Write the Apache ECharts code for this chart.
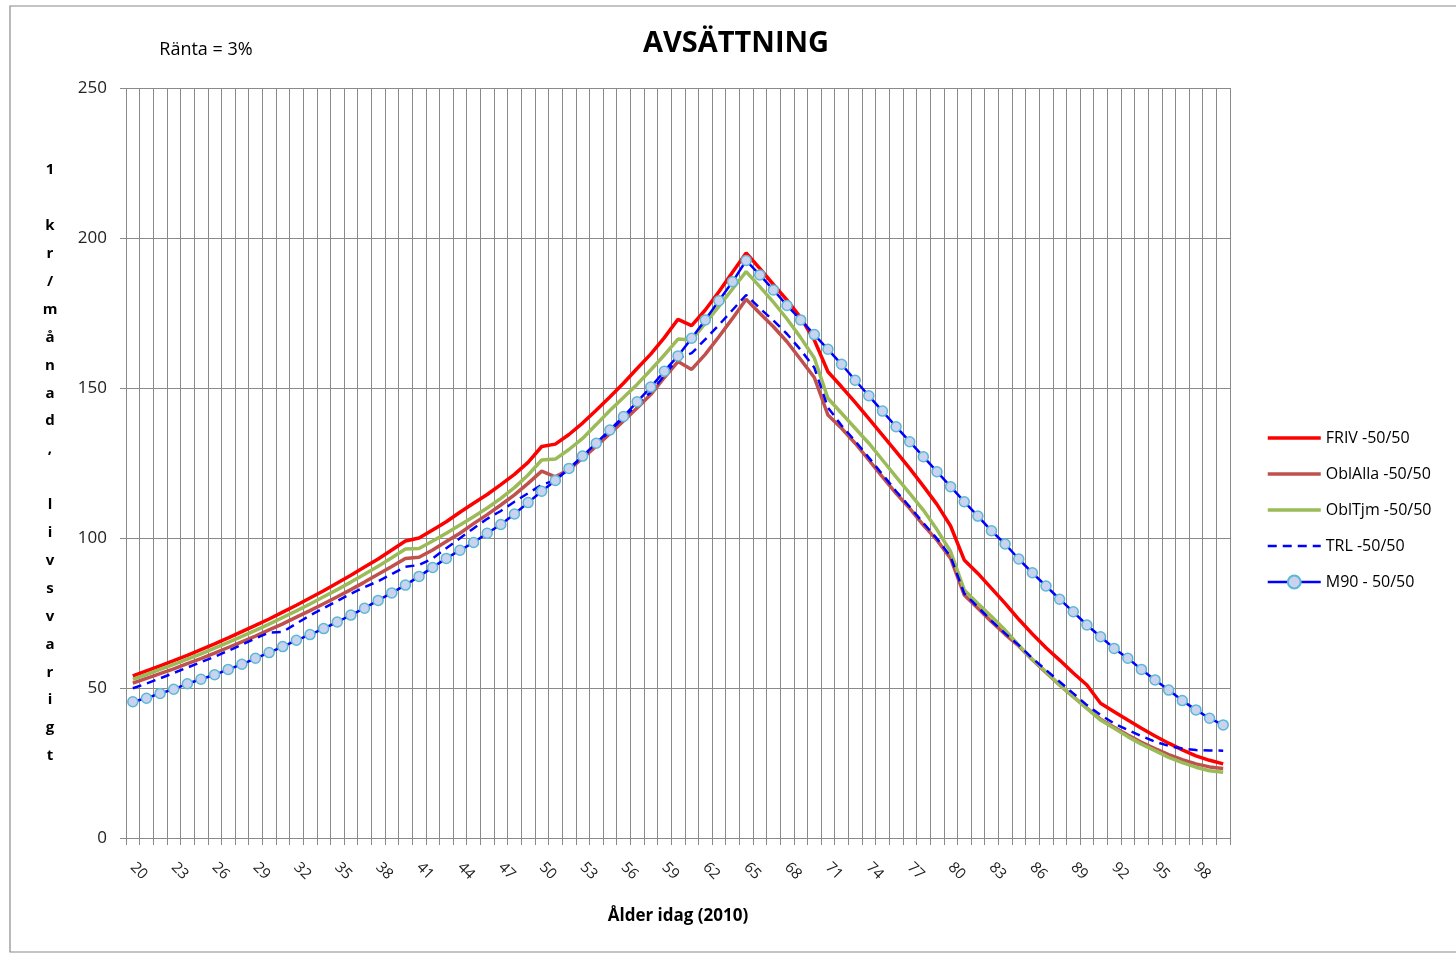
<!DOCTYPE html>
<html>
<head>
<meta charset="utf-8">
<title>Avsättning</title>
<script src="https://cdn.jsdelivr.net/npm/echarts@6/dist/echarts.min.js"></script>
<style>
  html, body { margin: 0; padding: 0; background: #fff; }
  #chart { width: 1456px; height: 953px; }
</style>
</head>
<body>
<div id="chart"></div>
<script>
  // ages 20..100
  var ages = []
  for (var a = 20; a <= 100; a++) ages.push(String(a))

  var friv = [
    54.0, 55.7, 57.4, 59.1, 60.9, 62.8, 64.7, 66.7, 68.8, 70.9,
    73.0, 75.3, 77.6, 80.0, 82.4, 85.0, 87.6, 90.3, 93.0, 96.0,
    99.0, 100.0, 102.7, 105.4, 108.6, 111.6, 114.5, 117.8, 121.2, 125.2,
    130.5, 131.3, 134.5, 138.3, 142.6, 147.0, 151.6, 156.5, 161.3, 166.8,
    172.9, 170.8, 176.0, 182.1, 188.6, 195.0, 189.9, 184.5, 179.3, 173.5,
    166.0, 155.4, 150.4, 145.2, 139.8, 134.3, 128.8, 123.2, 117.3, 111.2,
    104.0, 92.7, 88.2, 83.2, 78.2, 72.9, 68.0, 63.4, 59.3, 55.0,
    51.0, 44.9, 42.1, 39.3, 36.6, 34.0, 31.6, 29.4, 27.4, 25.9,
    24.7
  ]
  var oblAlla = [
    51.6, 53.2, 54.8, 56.4, 58.1, 59.8, 61.6, 63.5, 65.4, 67.3,
    69.4, 71.4, 73.6, 75.8, 78.1, 80.4, 82.8, 85.3, 87.9, 90.5,
    93.2, 93.6, 96.0, 98.8, 101.6, 104.8, 107.8, 111.0, 114.4, 118.2,
    122.3, 120.4, 122.8, 126.6, 130.6, 134.8, 139.0, 143.3, 147.8, 153.5,
    158.8, 156.2, 161.2, 167.1, 173.2, 179.6, 174.9, 170.4, 165.4, 159.5,
    153.5, 141.0, 136.6, 131.6, 126.0, 120.4, 114.9, 109.9, 104.3, 99.3,
    93.2, 81.0, 76.6, 72.1, 67.9, 64.0, 59.4, 55.2, 51.0, 47.1,
    43.3, 39.6, 36.9, 34.3, 31.9, 29.8, 27.8, 26.1, 24.7, 23.7,
    23.2
  ]
  var oblTjm = [
    52.9, 54.5, 56.2, 57.9, 59.6, 61.4, 63.3, 65.2, 67.2, 69.2,
    71.3, 73.5, 75.7, 78.0, 80.4, 82.8, 85.3, 87.9, 90.6, 93.4,
    96.3, 96.5, 99.0, 101.6, 104.3, 107.1, 110.0, 113.2, 116.8, 121.0,
    126.0, 126.3, 129.5, 133.2, 137.8, 142.5, 146.8, 151.2, 156.0, 161.0,
    166.3, 166.0, 171.5, 177.2, 183.0, 188.8, 183.8, 178.6, 173.0, 166.8,
    160.0, 146.6, 141.6, 136.6, 131.6, 126.0, 120.4, 114.9, 109.3, 102.8,
    95.5, 82.7, 78.2, 73.8, 69.3, 64.3, 59.6, 55.4, 51.0, 47.1,
    43.2, 39.3, 36.6, 33.8, 31.3, 29.1, 26.9, 25.1, 23.6, 22.4,
    21.9
  ]
  var trl = [
    49.9, 51.5, 53.2, 55.0, 56.8, 58.6, 60.4, 62.4, 64.4, 66.5,
    68.5, 68.7, 71.5, 74.2, 76.6, 79.0, 81.4, 83.6, 85.6, 88.0,
    90.4, 91.0, 93.2, 96.6, 99.9, 103.2, 106.4, 109.0, 112.1, 114.9,
    117.7, 119.3, 123.0, 127.0, 131.3, 135.7, 140.1, 144.6, 148.6, 154.2,
    159.9, 161.6, 166.2, 171.0, 176.0, 181.0, 176.6, 172.5, 168.0, 162.7,
    156.8, 143.5, 137.5, 132.3, 126.8, 121.2, 115.6, 110.4, 105.0, 99.8,
    93.8, 81.5, 77.0, 72.4, 68.2, 64.3, 59.9, 56.0, 52.1, 48.2,
    44.3, 41.0, 38.2, 36.0, 34.0, 32.1, 30.7, 29.8, 29.3, 29.2,
    29.1
  ]
  var m90 = [
    45.4, 46.6, 48.2, 49.6, 51.4, 52.9, 54.4, 56.2, 57.9, 59.9,
    61.8, 63.8, 65.9, 67.8, 69.8, 72.0, 74.3, 76.6, 79.2, 81.7,
    84.3, 87.2, 90.2, 93.2, 95.9, 98.5, 101.6, 104.5, 108.0, 111.8,
    115.6, 119.2, 123.2, 127.3, 131.6, 136.0, 140.5, 145.4, 150.3, 155.6,
    160.7, 166.6, 172.7, 179.1, 185.4, 192.5, 187.7, 182.7, 177.5, 172.7,
    167.8, 162.9, 157.9, 152.6, 147.4, 142.3, 137.1, 132.1, 127.1, 122.1,
    117.1, 112.1, 107.3, 102.4, 98.0, 93.0, 88.4, 84.0, 79.6, 75.4,
    71.0, 67.1, 63.2, 59.9, 56.2, 52.7, 49.3, 45.8, 42.7, 39.9,
    37.7
  ]

  var yTitle = '1 kr/månad, livsvarigt'.split('').join('\n')
  var fontFam = '"Open Sans", sans-serif'
  var gridColor = '#8a8a8a'

  var chart = echarts.init(document.getElementById('chart'))

  function lineSeries(name, data, color, width, dashed) {
    return {
      name: name,
      type: 'line',
      data: data,
      symbol: 'none',
      lineStyle: { color: color, width: width, type: dashed ? [9, 6] : 'solid' },
      itemStyle: { color: color },
      emphasis: { disabled: true }
    }
  }

  // legend entries without the circle for plain line series
  var noDot = { color: 'rgba(0,0,0,0)', borderColor: 'rgba(0,0,0,0)', borderWidth: 0, opacity: 0 }

  chart.setOption({
    animation: false,
    textStyle: { fontFamily: fontFam },
    graphic: [
      {
        type: 'rect',
        shape: { x: 10, y: 6, width: 1460, height: 946 },
        style: { fill: 'none', stroke: '#8a8a8a', lineWidth: 1.2 },
        silent: true
      },
      {
        type: 'text',
        x: 736, y: 44,
        style: {
          text: 'AVSÄTTNING', fill: '#000', font: 'bold 29px ' + fontFam,
          textAlign: 'center', textVerticalAlign: 'middle'
        }
      },
      {
        type: 'text',
        x: 206, y: 50,
        style: {
          text: 'Ränta = 3%', fill: '#000', font: '18px ' + fontFam,
          textAlign: 'center', textVerticalAlign: 'middle'
        }
      }
    ],
    legend: {
      orient: 'vertical',
      left: 1261,
      top: 425,
      itemWidth: 53,
      itemHeight: 16,
      itemGap: 20,
      textStyle: { fontSize: 16, color: '#000', fontFamily: fontFam },
      data: [
        { name: 'FRIV -50/50', itemStyle: noDot, lineStyle: { width: 3.5 } },
        { name: 'OblAlla -50/50', itemStyle: noDot, lineStyle: { width: 3.5 } },
        { name: 'OblTjm -50/50', itemStyle: noDot, lineStyle: { width: 3.5 } },
        { name: 'TRL -50/50', itemStyle: noDot, lineStyle: { width: 2.5 } },
        { name: 'M90 - 50/50', lineStyle: { width: 2.5 } }
      ]
    },
    grid: { left: 126, right: 226, top: 88, bottom: 115, containLabel: false },
    xAxis: {
      type: 'category',
      data: ages,
      boundaryGap: true,
      name: 'Ålder idag (2010)',
      nameLocation: 'middle',
      nameGap: 70,
      nameTextStyle: { fontWeight: 'bold', fontSize: 17, color: '#000' },
      axisLine: { lineStyle: { color: gridColor, width: 1 } },
      axisTick: { show: true, interval: 0, length: 7, lineStyle: { color: gridColor } },
      axisLabel: { interval: 2, rotate: -45, margin: 27, fontSize: 15, color: '#222' },
      splitLine: { show: true, interval: 0, lineStyle: { color: gridColor, width: 1 } }
    },
    yAxis: {
      type: 'value',
      min: 0,
      max: 250,
      interval: 50,
      name: yTitle,
      nameLocation: 'middle',
      nameRotate: 0,
      nameGap: 76,
      nameTextStyle: {
        fontWeight: 'bold', fontSize: 15, color: '#000', lineHeight: 27.9,
        align: 'center', verticalAlign: 'middle', padding: [6, 0, 0, 0]
      },
      axisLine: { show: false },
      axisTick: { show: true, length: 6, lineStyle: { color: gridColor } },
      axisLabel: { margin: 19, fontSize: 17, color: '#222' },
      splitLine: { show: true, lineStyle: { color: gridColor, width: 1 } }
    },
    series: [
      lineSeries('FRIV -50/50', friv, '#ff0000', 3.5, false),
      lineSeries('OblAlla -50/50', oblAlla, '#c0504d', 3.5, false),
      lineSeries('OblTjm -50/50', oblTjm, '#9bbb59', 3.5, false),
      lineSeries('TRL -50/50', trl, '#0000ff', 2.5, true),
      {
        name: 'M90 - 50/50',
        type: 'line',
        data: m90,
        symbol: 'circle',
        symbolSize: 10,
        showAllSymbol: true,
        lineStyle: { color: '#0000ff', width: 2.5 },
        itemStyle: { color: '#c9d3f0', borderColor: '#5bb8d4', borderWidth: 1.5 },
        emphasis: { disabled: true }
      }
    ]
  })
</script>
</body>
</html>
